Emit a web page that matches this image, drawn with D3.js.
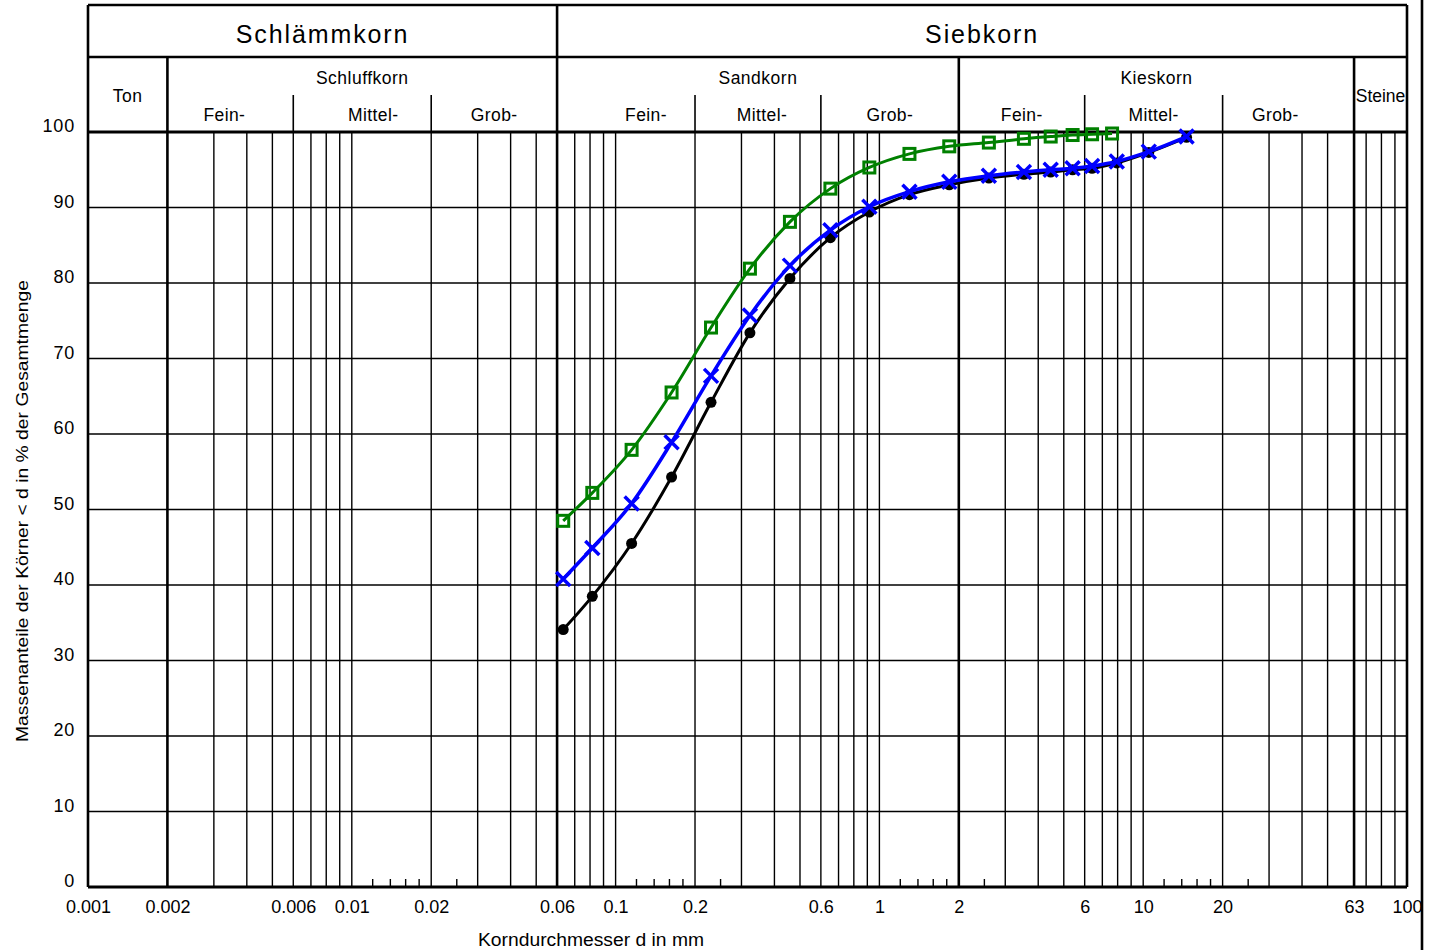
<!DOCTYPE html>
<html>
<head>
<meta charset="utf-8">
<script src="https://cdn.jsdelivr.net/npm/d3@7"></script>
<style>
  html, body { margin: 0; padding: 0; background: #fff; }
  svg { display: block; font-family: "Liberation Sans", Arial, sans-serif; }
</style>
</head>
<body>
<svg id="chart" width="1439" height="950"></svg>
<script>
// ---------- data ----------
const sieveSizes = [0.0633, 0.0816, 0.115, 0.163, 0.230, 0.323, 0.458, 0.652, 0.916, 1.30, 1.84, 2.60, 3.53, 4.46, 5.40, 6.40, 7.94, 10.5, 14.6];
const seriesBlack = [34.1, 38.5, 45.5, 54.3, 64.2, 73.4, 80.6, 86.0, 89.4, 91.7, 93.0, 93.9, 94.4, 94.7, 95.0, 95.2, 95.9, 97.3, 99.3];
const seriesBlue  = [40.8, 44.9, 50.8, 58.9, 67.7, 75.7, 82.3, 87.0, 90.1, 92.1, 93.4, 94.2, 94.7, 95.0, 95.2, 95.5, 96.1, 97.4, 99.4];
const greenSizes  = [0.0633, 0.0816, 0.115, 0.163, 0.230, 0.323, 0.458, 0.652, 0.916, 1.30, 1.84, 2.60, 3.53, 4.46, 5.40, 6.40, 7.62];
const seriesGreen = [48.5, 52.2, 57.9, 65.5, 74.1, 81.9, 88.1, 92.5, 95.3, 97.1, 98.1, 98.6, 99.1, 99.4, 99.6, 99.7, 99.8];

const xTickLabels = [0.001, 0.002, 0.006, 0.01, 0.02, 0.06, 0.1, 0.2, 0.6, 1, 2, 6, 10, 20, 63, 100];
const yTickValues = [0, 10, 20, 30, 40, 50, 60, 70, 80, 90, 100];
const mainBoundaries = [0.002, 0.06, 2, 63];
const mainGroups = [["Schlämmkorn", 0.001, 0.06], ["Siebkorn", 0.06, 100]];
const subGroups = [["Ton", 0.001, 0.002], ["Schluffkorn", 0.002, 0.06], ["Sandkorn", 0.06, 2], ["Kieskorn", 2, 63], ["Steine", 63, 100]];
const fractionNames = ["Fein-", "Mittel-", "Grob-"];
const fractionBounds = [[0.002, 0.006, 0.02, 0.06], [0.06, 0.2, 0.6, 2], [2, 6, 20, 63]];
const xTitle = "Korndurchmesser d in mm";
const yTitle = "Massenanteile der Körner < d in % der Gesamtmenge";

// ---------- layout ----------
const svg = d3.select("#chart");
const x = d3.scaleLog().domain([0.001, 100]).range([88, 1407]);
const y = d3.scaleLinear().domain([0, 100]).range([887, 132]);
const headTop = 5, headMid = 57, subSep = 95, plotTop = y(100), plotBottom = y(0);
// pixel nudges of the fraction labels (layout, not data)
const fractionNudge = [[-6, 11, 0], [20, 4, 0], [0, 0, -13]];

// grid values
const gridVals = [];
[0.001, 0.01, 0.1, 1, 10].forEach(dec => {
  for (let m = 1; m <= 9; m++) {
    const v = +(m * dec).toPrecision(3);
    if (v === 0.001) continue;
    if (v === 60) continue;
    gridVals.push(v);
  }
});
gridVals.push(63);
const minorTicks = [];
[0.01, 0.1, 1, 10].forEach(dec => {
  [1.2, 1.4, 1.6, 1.8, 2.5].forEach(m => minorTicks.push(+(m * dec).toPrecision(3)));
});

const g = svg.append("g");

// horizontal grid
g.selectAll(".hgrid").data(yTickValues.filter(v => v > 0 && v < 100)).join("line")
  .attr("x1", x(0.001)).attr("x2", x(100))
  .attr("y1", d => y(d)).attr("y2", d => y(d))
  .attr("stroke", "#000").attr("stroke-width", 1.6);

// vertical grid
g.selectAll(".vgrid").data(gridVals).join("line")
  .attr("x1", d => x(d)).attr("x2", d => x(d))
  .attr("y1", plotTop).attr("y2", plotBottom)
  .attr("stroke", "#000")
  .attr("stroke-width", d => mainBoundaries.includes(d) ? 2.6 : 1.4);

// minor ticks at bottom
g.selectAll(".minor").data(minorTicks).join("line")
  .attr("x1", d => x(d)).attr("x2", d => x(d))
  .attr("y1", plotBottom).attr("y2", plotBottom - 8)
  .attr("stroke", "#000").attr("stroke-width", 1.4);

// header frame
const hdr = svg.append("g").attr("stroke", "#000").attr("fill", "none");
hdr.append("line").attr("x1", x(0.001)).attr("x2", x(100)).attr("y1", headTop).attr("y2", headTop).attr("stroke-width", 2.6);
hdr.append("line").attr("x1", x(0.001)).attr("x2", x(100)).attr("y1", headMid).attr("y2", headMid).attr("stroke-width", 2.6);
hdr.append("line").attr("x1", x(0.001)).attr("x2", x(100)).attr("y1", plotTop).attr("y2", plotTop).attr("stroke-width", 3);
hdr.append("line").attr("x1", x(0.001)).attr("x2", x(100)).attr("y1", plotBottom).attr("y2", plotBottom).attr("stroke-width", 3);
hdr.append("line").attr("x1", x(0.001)).attr("x2", x(0.001)).attr("y1", headTop).attr("y2", plotBottom).attr("stroke-width", 2.6);
hdr.append("line").attr("x1", x(100)).attr("x2", x(100)).attr("y1", headTop).attr("y2", plotBottom).attr("stroke-width", 2.6);
hdr.append("line").attr("x1", x(0.06)).attr("x2", x(0.06)).attr("y1", headTop).attr("y2", plotTop).attr("stroke-width", 2.6);
[0.002, 2, 63].forEach(b => {
  hdr.append("line").attr("x1", x(b)).attr("x2", x(b)).attr("y1", headMid).attr("y2", plotTop).attr("stroke-width", 2.6);
});
fractionBounds.forEach(bs => {
  [bs[1], bs[2]].forEach(b => {
    hdr.append("line").attr("x1", x(b)).attr("x2", x(b)).attr("y1", subSep).attr("y2", plotTop).attr("stroke-width", 1.6);
  });
});
svg.append("line").attr("x1", 1422).attr("x2", 1422).attr("y1", 0).attr("y2", 950)
  .attr("stroke", "#000").attr("stroke-width", 2.6);

// header texts
const gm = d => Math.sqrt(d[1] * d[2]);
svg.selectAll(".main").data(mainGroups).join("text")
  .attr("x", d => x(gm(d))).attr("y", 43)
  .attr("text-anchor", "middle").attr("font-size", 25).attr("letter-spacing", 1.9)
  .text(d => d[0]);
svg.selectAll(".sub").data(subGroups).join("text")
  .attr("x", d => x(gm(d))).attr("y", d => (d[0] === "Ton" || d[0] === "Steine") ? 102 : 84)
  .attr("text-anchor", "middle").attr("font-size", 17.5).attr("letter-spacing", d => d[0] === "Steine" ? 0 : 0.5)
  .text(d => d[0]);
fractionBounds.forEach((bs, k) => {
  svg.selectAll(null).data(fractionNames).join("text")
    .attr("x", (d, i) => x(Math.sqrt(bs[i] * bs[i + 1])) + fractionNudge[k][i])
    .attr("y", 121).attr("text-anchor", "middle").attr("font-size", 17.5).attr("letter-spacing", 0.4)
    .text(d => d);
});

// axes labels
const xAxis = d3.axisBottom(x).tickValues(xTickLabels).tickSize(0).tickPadding(0)
  .tickFormat(d => String(d));
const xa = svg.append("g").attr("transform", `translate(0,${plotBottom + 13})`).call(xAxis);
xa.select(".domain").remove();
xa.selectAll("text").attr("font-size", 18).attr("fill", "#000").attr("font-family", "Liberation Sans, Arial, sans-serif");

const yAxis = d3.axisLeft(y).tickValues(yTickValues).tickSize(0).tickPadding(0);
const ya = svg.append("g").attr("transform", `translate(75,-6)`).call(yAxis);
ya.select(".domain").remove();
ya.selectAll("text").attr("font-size", 18).attr("letter-spacing", 0.8).attr("fill", "#000").attr("font-family", "Liberation Sans, Arial, sans-serif");

svg.append("text").attr("x", 591).attr("y", 946).attr("text-anchor", "middle")
  .attr("font-size", 17.5).attr("textLength", 226).attr("lengthAdjust", "spacingAndGlyphs").text(xTitle);
svg.append("text").attr("transform", "translate(28,511) rotate(-90)").attr("text-anchor", "middle")
  .attr("font-size", 16.5).attr("textLength", 462).attr("lengthAdjust", "spacingAndGlyphs").text(yTitle);

// ---------- series ----------
const lineGen = d3.line().x(d => x(d[0])).y(d => y(d[1])).curve(d3.curveMonotoneX);
const blackPts = sieveSizes.map((s, i) => [s, seriesBlack[i]]);
const bluePts = sieveSizes.map((s, i) => [s, seriesBlue[i]]);
const greenPts = greenSizes.map((s, i) => [s, seriesGreen[i]]);

// green
svg.append("path").attr("d", lineGen(greenPts)).attr("fill", "none").attr("stroke", "#008000").attr("stroke-width", 3);
svg.selectAll(".gm").data(greenPts).join("rect")
  .attr("x", d => x(d[0]) - 5.5).attr("y", d => y(d[1]) - 5.5)
  .attr("width", 11).attr("height", 11)
  .attr("fill", "none").attr("stroke", "#008000").attr("stroke-width", 3);

// black
svg.append("path").attr("d", lineGen(blackPts)).attr("fill", "none").attr("stroke", "#000").attr("stroke-width", 3);
svg.selectAll(".bm").data(blackPts).join("circle")
  .attr("cx", d => x(d[0])).attr("cy", d => y(d[1])).attr("r", 5.5).attr("fill", "#000");

// blue
svg.append("path").attr("d", lineGen(bluePts)).attr("fill", "none").attr("stroke", "#0000ff").attr("stroke-width", 3.5);
svg.selectAll(".xm").data(bluePts).join("path")
  .attr("d", d => {
    const cx = x(d[0]), cy = y(d[1]), r = 7;
    return `M${cx - r},${cy - r}L${cx + r},${cy + r}M${cx - r},${cy + r}L${cx + r},${cy - r}`;
  })
  .attr("stroke", "#0000ff").attr("stroke-width", 3.5).attr("fill", "none");
</script>
</body>
</html>
